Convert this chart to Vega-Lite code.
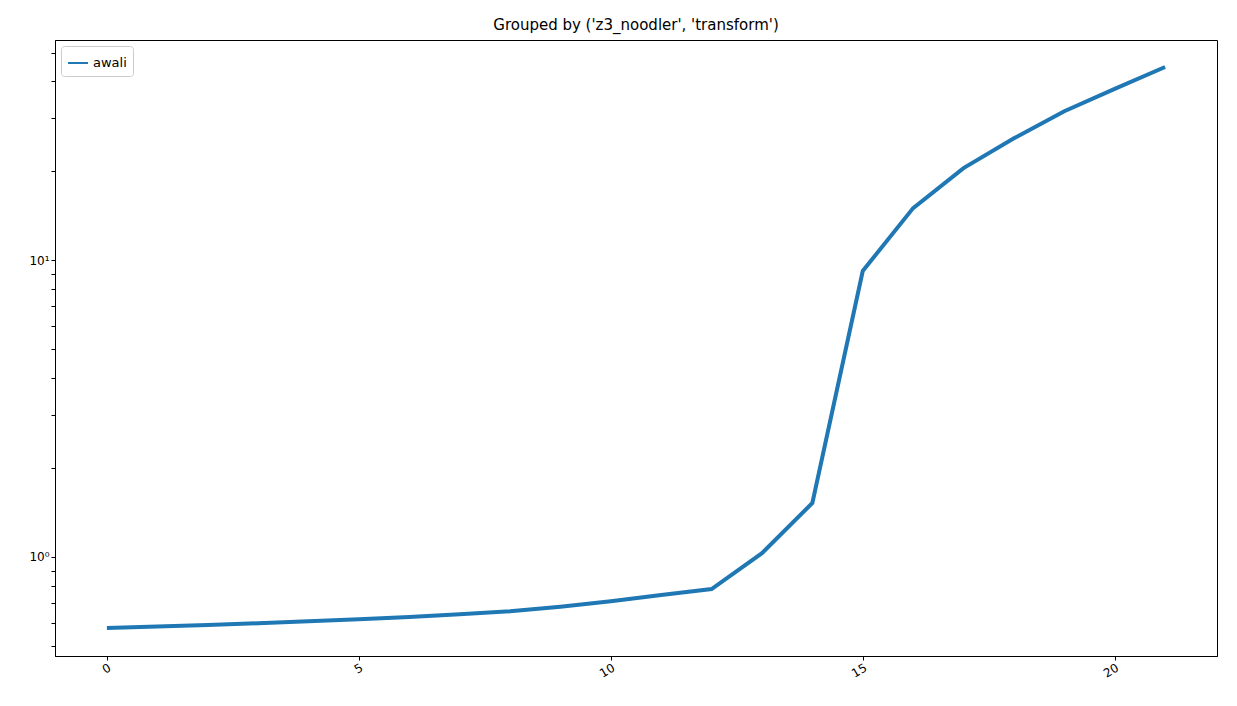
{
"$schema":"https://vega.github.io/schema/vega-lite/v6.json",
"width":1162,"height":616,
"autosize":{"type":"none"},
"padding":{"left":55,"top":40,"right":20,"bottom":50},
"background":"white",
"title":{"text":"Grouped by ('z3_noodler', 'transform')","font":"DejaVu Sans","fontSize":15,"fontWeight":"normal","offset":7},
"data":{"values":[
{"x":0,"y":0.577,"s":"awali"},{"x":1,"y":0.583,"s":"awali"},{"x":2,"y":0.59,"s":"awali"},{"x":3,"y":0.598,"s":"awali"},{"x":4,"y":0.607,"s":"awali"},{"x":5,"y":0.617,"s":"awali"},{"x":6,"y":0.628,"s":"awali"},{"x":7,"y":0.641,"s":"awali"},{"x":8,"y":0.656,"s":"awali"},{"x":9,"y":0.68,"s":"awali"},{"x":10,"y":0.71,"s":"awali"},{"x":11,"y":0.745,"s":"awali"},{"x":12,"y":0.78,"s":"awali"},{"x":13,"y":1.03,"s":"awali"},{"x":14,"y":1.52,"s":"awali"},{"x":15,"y":9.19,"s":"awali"},{"x":16,"y":14.96,"s":"awali"},{"x":17,"y":20.4,"s":"awali"},{"x":18,"y":25.7,"s":"awali"},{"x":19,"y":31.7,"s":"awali"},{"x":20,"y":37.7,"s":"awali"},{"x":21,"y":44.7,"s":"awali"}
]},
"mark":{"type":"line","strokeWidth":4,"clip":true},
"encoding":{
"x":{"field":"x","type":"quantitative","scale":{"domain":[-1.03,22.03],"nice":false,"zero":false},
"axis":{"title":null,"grid":false,"values":[0,5,10,15,20],"labelAngle":-30,"labelAlign":"right","labelFont":"DejaVu Sans","labelFontSize":12,"labelColor":"black","tickColor":"black","domainColor":"black","tickSize":4}},
"y":{"field":"y","type":"quantitative","scale":{"type":"log","domain":[0.464,55.1],"nice":false},
"axis":{"title":null,"grid":false,"values":[0.5,0.6,0.7,0.8,0.9,1,2,3,4,5,6,7,8,9,10,20,30,40,50],"labelExpr":"datum.value==1?'10⁰':datum.value==10?'10¹':''","labelFont":"DejaVu Sans","labelFontSize":12,"labelColor":"black","tickColor":"black","domainColor":"black","tickSize":4}},
"color":{"field":"s","type":"nominal","scale":{"range":["#1f77b4"]},
"legend":{"title":null,"orient":"top-left","offset":6,"symbolType":"stroke","symbolStrokeWidth":2,"symbolSize":400,"labelFont":"DejaVu Sans","labelFontSize":13,"strokeColor":"#cccccc","fillColor":"white","padding":6,"cornerRadius":3}}
},
"config":{"view":{"stroke":"black","strokeWidth":1}}
}
